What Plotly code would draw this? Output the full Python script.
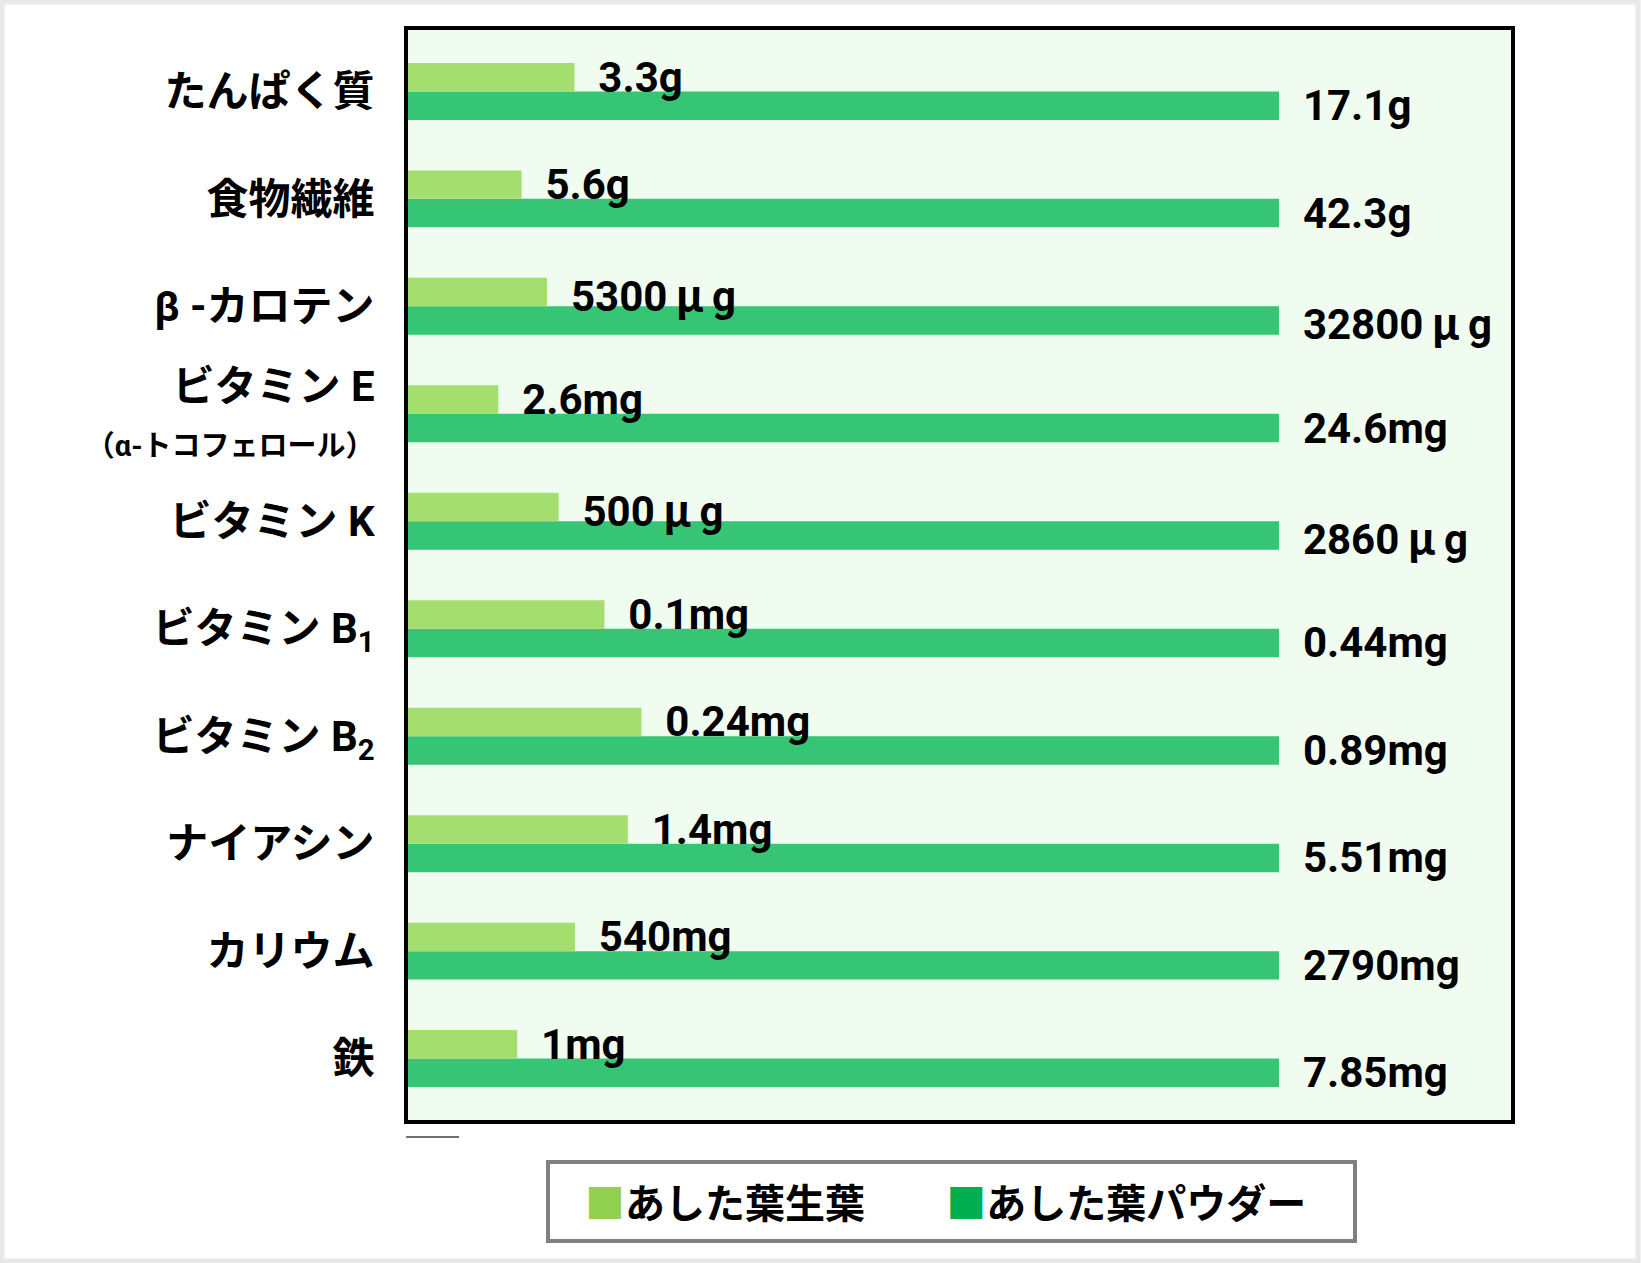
import plotly.graph_objects as go

# ---------------- data ----------------
categories = ["たんぱく質", "食物繊維", "β -カロテン", "ビタミン E", "ビタミン K",
              "ビタミン B1", "ビタミン B2", "ナイアシン", "カリウム", "鉄"]
tick_labels = ["たんぱく質", "食物繊維", "β -カロテン",
               "ビタミン E<br><span style='font-size:29px'>（α-トコフェロール）</span>",
               "ビタミン K", "ビタミン B<sub>1</sub>", "ビタミン B<sub>2</sub>",
               "ナイアシン", "カリウム", "鉄"]
raw_leaf = [3.3, 5.6, 5300, 2.6, 500, 0.1, 0.24, 1.4, 540, 1]
powder = [17.1, 42.3, 32800, 24.6, 2860, 0.44, 0.89, 5.51, 2790, 7.85]
units = ["g", "g", "μg", "mg", "μg", "mg", "mg", "mg", "mg", "mg"]
series_names = ["あした葉生葉", "あした葉パウダー"]

# ---------------- styles ----------------
C_LIGHT_BAR = "#A3DE6F"
C_DARK_BAR = "#35C574"
C_LIGHT_KEY = "#92D050"
C_DARK_KEY = "#00B050"
PLOT_BG = "#F0FCF0"
NUM_FONT = "Roboto, Liberation Sans, sans-serif"
JP_FONT = "Noto Sans CJK JP"

W, H = 1641, 1263
L, R, T, B = 406, 128, 28, 141
PW, PH = W - L - R, H - T - B


def px(x):
    return (x - L) / PW


def py(y):
    return (H - B - y) / PH


def fmt(v, u):
    num = f"{v:g}"
    if u == "μg":
        return "\u00a0\u00a0" + num + f"<span style='font-family:{JP_FONT}'>\u2009μ\u2009</span>g"
    return "\u00a0\u00a0" + num + u


# relative length (powder = 100)
raw_rel = [r / p * 100 for r, p in zip(raw_leaf, powder)]
powder_rel = [p / p * 100 for p in powder]

num_font = dict(family=NUM_FONT, size=42, color="black", weight="bold")

fig = go.Figure()
# powder first (lower slot of each group), raw leaf second (upper slot, drawn on top)
fig.add_trace(go.Bar(
    y=categories, x=powder_rel, orientation="h", name=series_names[1],
    marker=dict(color=C_DARK_BAR, line=dict(width=0)),
    text=[fmt(v, u) for v, u in zip(powder, units)],
    textposition="outside", constraintext="none", cliponaxis=False,
    textfont=num_font, showlegend=False, hoverinfo="skip",
))
fig.add_trace(go.Bar(
    y=categories, x=raw_rel, orientation="h", name=series_names[0],
    marker=dict(color=C_LIGHT_BAR, line=dict(width=0)),
    text=[fmt(v, u) for v, u in zip(raw_leaf, units)],
    textposition="outside", constraintext="none", cliponaxis=False,
    textfont=num_font, showlegend=False, hoverinfo="skip",
))
# legend entries (text swatch like the original "■" keys)
legend_labels = [
    f"<span style='color:{C_LIGHT_KEY}'>■</span>{series_names[0]}\u00a0\u00a0\u00a0\u00a0",
    f"<span style='color:{C_DARK_KEY}'>■</span>{series_names[1]}",
]
for lab in legend_labels:
    fig.add_trace(go.Scatter(
        x=[None], y=[categories[0]], mode="markers",
        marker=dict(color="rgba(0,0,0,0)", size=1),
        name=lab, showlegend=True, hoverinfo="skip",
    ))

fig.update_layout(
    width=W, height=H,
    margin=dict(l=L, r=R, t=T, b=B, autoexpand=False),
    paper_bgcolor="white", plot_bgcolor=PLOT_BG,
    barmode="group", bargap=0.47, bargroupgap=0,
    xaxis=dict(range=[0, 126.8], visible=False, showgrid=False, zeroline=False),
    yaxis=dict(
        categoryorder="array", categoryarray=categories[::-1],
        range=[-0.59, 9.59], tickvals=categories, ticktext=tick_labels,
        ticks="outside", ticklen=22, tickcolor="rgba(0,0,0,0)",
        showgrid=False, zeroline=False, showline=False,
        tickfont=dict(family=f"Roboto, {JP_FONT}", size=42, color="black", weight="bold"),
    ),
    legend=dict(
        orientation="h", x=px(545), xanchor="left", y=py(1202), yanchor="middle",
        font=dict(family=JP_FONT, size=40, color="black", weight="bold"),
        bgcolor="rgba(0,0,0,0)", borderwidth=0, itemwidth=30,
        traceorder="normal",
    ),
    shapes=[
        # outer light-grey page border
        dict(type="rect", xref="paper", yref="paper", x0=px(2), x1=px(1638),
             y0=py(1261), y1=py(2), line=dict(color="#E8E8E8", width=5), layer="below"),
        # plot frame
        dict(type="rect", xref="paper", yref="paper", x0=0, x1=1, y0=0, y1=1,
             line=dict(color="black", width=4), layer="above"),
        # short grey line under plot
        dict(type="line", xref="paper", yref="paper", x0=0, x1=px(459),
             y0=py(1137), y1=py(1137), line=dict(color="#707070", width=2)),
        # legend box
        dict(type="rect", xref="paper", yref="paper", x0=px(548), x1=px(1355),
             y0=py(1241), y1=py(1162), line=dict(color="#808080", width=4),
             fillcolor="white", layer="below"),
    ],
)

fig.write_html("out.html")
